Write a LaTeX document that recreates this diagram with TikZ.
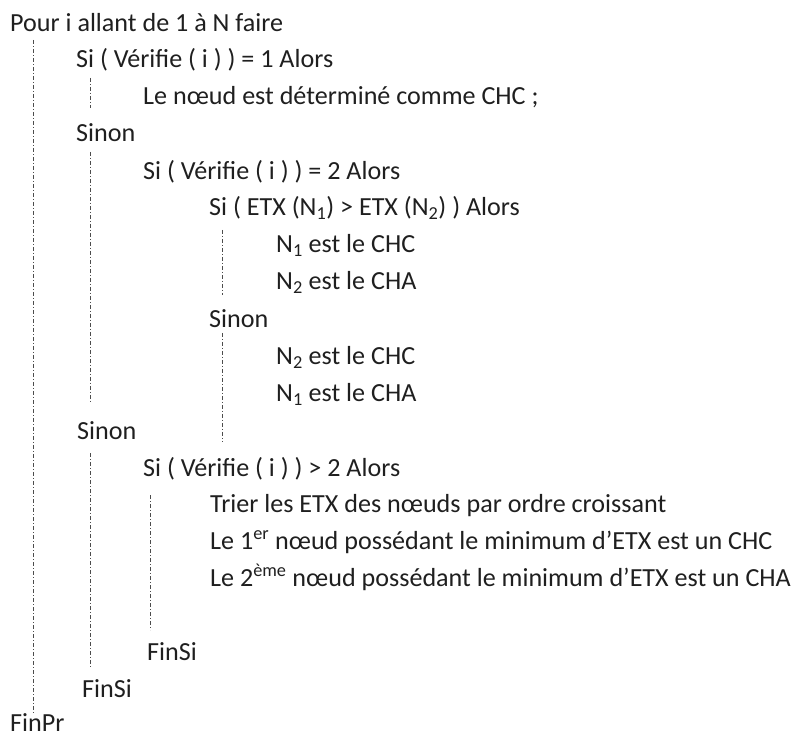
\documentclass[tikz,border=0pt]{standalone}
\usepackage{fontspec}
\setmainfont{Carlito}
\begin{document}
\begin{tikzpicture}[x=1pt,y=-1pt,
  codeline/.style={anchor=base west, inner sep=0pt, font=\fontsize{26.1}{30}\selectfont, text=black!88},
  guide/.style={draw=black!70, line width=0.9pt, dash pattern=on 4pt off 2pt on 1pt off 2pt}]
\useasboundingbox (0,0) rectangle (793,735);

% algorithm lines
\node[codeline] (pour)  at (10,31.7)  {Pour i allant de 1 à N faire};
\node[codeline] (si1)   at (76,68)    {Si ( Vérifie ( i ) ) = 1 Alors};
\node[codeline] (chc0)  at (143,105)  {Le nœud est déterminé comme CHC ;};
\node[codeline] (sinA)  at (76,142)   {Sinon};
\node[codeline] (si2)   at (143,180)  {Si ( Vérifie ( i ) ) = 2 Alors};
\node[codeline] (etx)   at (209,216)  {Si ( ETX (N\textsubscript{1}) > ETX (N\textsubscript{2}) ) Alors};
\node[codeline] (a1)    at (276,253)  {N\textsubscript{1} est le CHC};
\node[codeline] (a2)    at (276,290)  {N\textsubscript{2} est le CHA};
\node[codeline] (sinB)  at (209,328)  {Sinon};
\node[codeline] (b1)    at (276,365)  {N\textsubscript{2} est le CHC};
\node[codeline] (b2)    at (276,402)  {N\textsubscript{1} est le CHA};
\node[codeline] (sinC)  at (77,439)   {Sinon};
\node[codeline] (si3)   at (143,476)  {Si ( Vérifie ( i ) ) > 2 Alors};
\node[codeline] (tri)   at (210,512)  {Trier les ETX des nœuds par ordre croissant};
\node[codeline] (c1)    at (210,549)  {Le 1\textsuperscript{er} nœud possédant le minimum d’ETX est un CHC};
\node[codeline] (c2)    at (210,586)  {Le 2\textsuperscript{ème} nœud possédant le minimum d’ETX est un CHA};
\node[codeline] (fin3)  at (147,660)  {FinSi};
\node[codeline] (fin1)  at (82,697)   {FinSi};
\node[codeline] (finpr) at (10,731)   {FinPr};

% block guides
\coordinate (g0a) at (33,40);    \coordinate (g0b) at (33,714);
\coordinate (g1a) at (90,78);    \coordinate (g1b) at (90,108);
\coordinate (g2a) at (90,152);   \coordinate (g2b) at (90,403);
\coordinate (g3a) at (90,453);   \coordinate (g3b) at (90,667);
\coordinate (g4a) at (222.5,230);\coordinate (g4b) at (222.5,295);
\coordinate (g5a) at (222.5,333);\coordinate (g5b) at (222.5,442);
\coordinate (g6a) at (150,495);  \coordinate (g6b) at (150,630);

\draw[guide] (g0a) -- (g0b);
\draw[guide] (g1a) -- (g1b);
\draw[guide] (g2a) -- (g2b);
\draw[guide] (g3a) -- (g3b);
\draw[guide] (g4a) -- (g4b);
\draw[guide] (g5a) -- (g5b);
\draw[guide] (g6a) -- (g6b);
\end{tikzpicture}
\end{document}
